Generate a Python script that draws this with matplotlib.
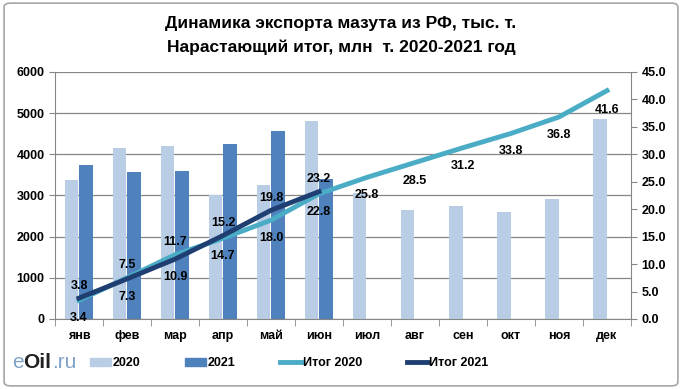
import matplotlib
matplotlib.use("Agg")
import matplotlib.pyplot as plt
import numpy as np
from matplotlib.patches import FancyBboxPatch
from matplotlib.lines import Line2D
from matplotlib.patches import Patch

plt.rcParams['font.family'] = ['Liberation Sans', 'DejaVu Sans']

months = ['янв', 'фев', 'мар', 'апр', 'май', 'июн', 'июл', 'авг', 'сен', 'окт', 'ноя', 'дек']
export_2020 = [3370, 4160, 4210, 3000, 3250, 4810, 3050, 2650, 2740, 2590, 2910, 4850]
export_2021 = [3750, 3560, 3590, 4250, 4570, 3390]
total_2020 = [3.4, 7.5, 11.7, 14.7, 18.0, 22.8, 25.8, 28.5, 31.2, 33.8, 36.8, 41.6]
total_2021 = [3.8, 7.3, 10.9, 15.2, 19.8, 23.2]

# label offsets in points (dx, dy)
off_2020 = [(0, -13), (0, 9), (0, 9), (0, -13), (0, -13), (0, -13),
            (0, -13), (0, -13), (0, -13), (0, -13), (0, -13), (0, -14)]
off_2021 = [(0, 9), (0, -13), (0, -13), (0, 9), (0, 9), (0, 9)]

c2020 = '#b9cde5'
c2021 = '#4f81bd'
cl2020 = '#4bacc6'
cl2021 = '#1f3f73'

fig = plt.figure(figsize=(6.82, 3.89), dpi=100)
fig.patches.append(FancyBboxPatch((0.006, 0.008), 0.988, 0.984,
                                  boxstyle='round,pad=0,rounding_size=0.01',
                                  transform=fig.transFigure, facecolor='white',
                                  edgecolor='#a6a6a6', linewidth=1.2, zorder=-10))

ax = fig.add_axes([0.0806, 0.18, 0.8446, 0.635])
ax2 = ax.twinx()

x = np.arange(len(months))
w = 0.28
ax.bar(x - 0.15, export_2020, width=w, color=c2020, zorder=2)
ax.bar(x[:len(export_2021)] + 0.15, export_2021, width=w, color=c2021, zorder=2)

ax.set_ylim(0, 6000)
ax.set_yticks(range(0, 6001, 1000))
ax.set_xlim(-0.5, 11.5)
ax.set_xticks(x)
ax.set_xticklabels(months)
ax.set_xticks(np.arange(-0.5, 12, 1), minor=True)
ax.tick_params(axis='x', which='major', length=0, pad=8)
ax.tick_params(axis='x', which='minor', length=5, color='#868686')
ax.tick_params(axis='y', length=4, color='#868686')
ax.grid(axis='y', color='#868686', linewidth=0.9, zorder=0)
ax.set_axisbelow(True)

ax2.set_ylim(0, 45)
ax2.set_yticks(np.arange(0, 45.1, 5))
ax2.set_yticklabels([f'{v:.1f}' for v in np.arange(0, 45.1, 5)])
ax2.tick_params(axis='y', length=4, color='#868686')

for a in (ax, ax2):
    for s in a.spines.values():
        s.set_visible(False)
    for lab in a.get_xticklabels() + a.get_yticklabels():
        lab.set_fontsize(9)
        lab.set_fontweight('bold')
ax.spines['left'].set_visible(True)
ax.spines['left'].set_color('#868686')
ax.spines['bottom'].set_visible(True)
ax.spines['bottom'].set_color('#868686')
ax2.spines['right'].set_visible(True)
ax2.spines['right'].set_color('#868686')

ax2.plot(x, total_2020, color=cl2020, linewidth=3.5, zorder=3)
ax2.plot(x[:len(total_2021)], total_2021, color=cl2021, linewidth=3.5, zorder=4)

for xi, v, (dx, dy) in zip(x, total_2020, off_2020):
    ax2.annotate(f'{v:.1f}', (xi, v), xytext=(dx, dy), textcoords='offset points',
                 ha='center', va='center', fontsize=9, fontweight='bold', zorder=5)
for xi, v, (dx, dy) in zip(x, total_2021, off_2021):
    ax2.annotate(f'{v:.1f}', (xi, v), xytext=(dx, dy), textcoords='offset points',
                 ha='center', va='center', fontsize=9, fontweight='bold', zorder=5)

fig.text(0.5, 0.94, 'Динамика экспорта мазута из РФ, тыс. т.', ha='center', va='center',
         fontsize=12.5, fontweight='bold')
fig.text(0.5, 0.878, 'Нарастающий итог, млн  т. 2020-2021 год', ha='center', va='center',
         fontsize=12.5, fontweight='bold')

handles = [Patch(color=c2020), Patch(color=c2021),
           Line2D([], [], color=cl2020, linewidth=3.5),
           Line2D([], [], color=cl2021, linewidth=3.5)]
fig.legend(handles, ['2020', '2021', 'Итог 2020', 'Итог 2021'], ncol=4, frameon=False,
           loc='center left', bbox_to_anchor=(0.115, 0.066),
           handlelength=1.7, handletextpad=0.1, columnspacing=3.6,
           prop={'weight': 'bold', 'size': 9})

# logo: pieces placed one after another
fig.canvas.draw()
renderer = fig.canvas.get_renderer()
pieces = [('e', '#7fa3c8', 'normal'), ('Oil', '#222222', 'bold'), ('.ru', '#7fa3c8', 'normal')]
px = 12
for txt, col, wt in pieces:
    t = fig.text(px / 682, 0.068, txt, color=col, fontsize=15, fontweight=wt,
                 va='center', ha='left')
    px += t.get_window_extent(renderer).width

fig.savefig('out.png', dpi=100)
